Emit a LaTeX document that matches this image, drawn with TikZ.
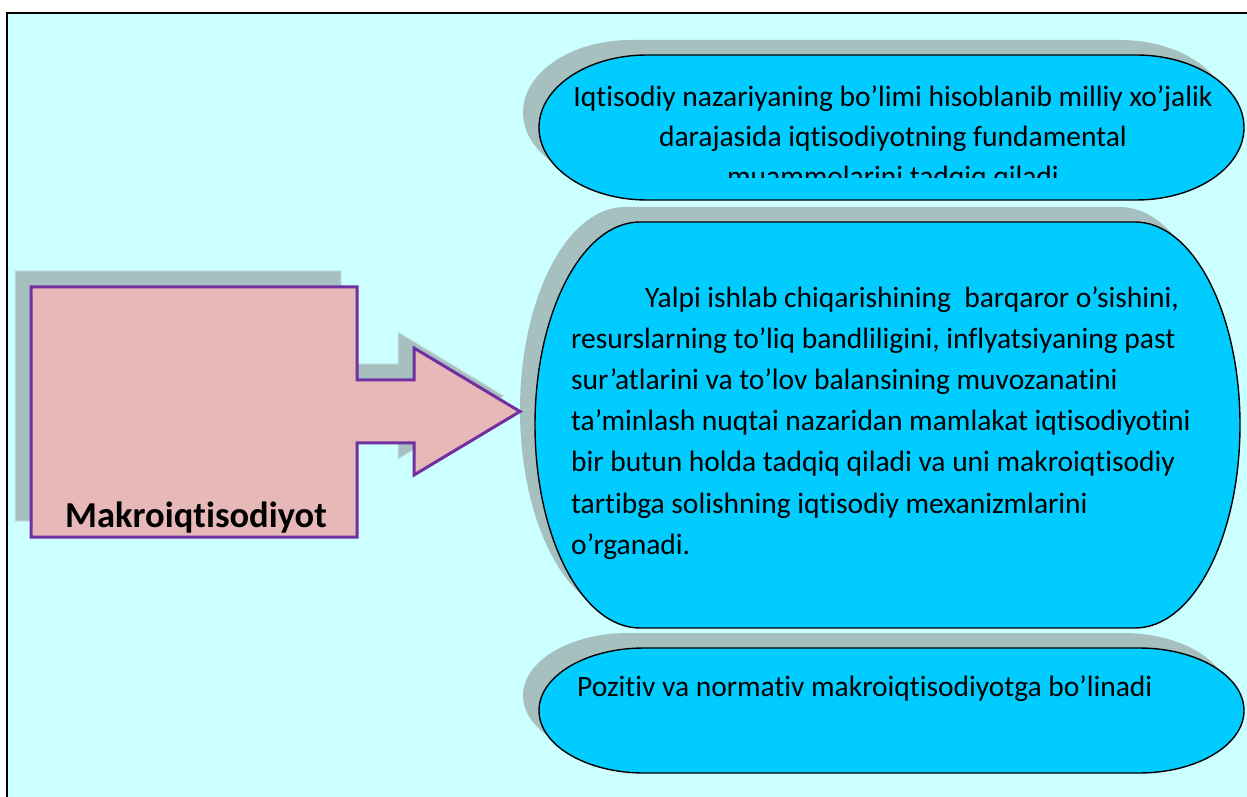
\documentclass[tikz,border=0pt]{standalone}
\usepackage{fontspec}
\setmainfont{Carlito}[Ligatures={NoCommon},RawFeature={-liga;-clig;-calt;-dlig}]
\definecolor{panel}{HTML}{CCFFFF}
\definecolor{capsulefill}{HTML}{00CCFF}
\definecolor{shadowgray}{HTML}{A6C0C0}
\definecolor{shadowedge}{HTML}{C8E2E2}
\definecolor{arrowfill}{HTML}{E6B8B7}
\definecolor{arrowline}{HTML}{7030A0}
% capsule with elliptical ends: style, left, right, top, bottom, x radius, y radius
\newcommand\capsuleshape[7]{%
  \path[#1] ({#2+#6},#4) -- ({#3-#6},#4)
    arc[start angle=90,end angle=-90,x radius=#6pt,y radius=#7pt]
    -- ({#2+#6},#5)
    arc[start angle=270,end angle=90,x radius=#6pt,y radius=#7pt] -- cycle;}
\begin{document}
\begin{tikzpicture}[x=1pt,y=1pt,
  capsule/.style={fill=capsulefill,draw=black,line width=1.4pt},
  capshadow/.style={fill=shadowgray},
  blockarrow/.style={fill=arrowfill,draw=arrowline,line width=3pt,line join=miter},
  arrowshadow/.style={fill=shadowgray,draw=shadowedge,line width=1pt},
  bodytext/.style={font=\fontsize{29.5}{40}\selectfont,inner sep=0pt,text=black}]
\useasboundingbox (0,0) rectangle (1247,796);
\clip (0,0) rectangle (1247,796);
\fill[white] (0,0) rectangle (1247,796);
\draw[fill=panel,line width=2pt] (7,-20) rectangle (1270,783);

% shadows of the three capsules
\capsuleshape{capshadow}{523}{1228}{756}{611}{108}{72.5}
\capsuleshape{capshadow}{520}{1225}{589}{183}{105}{203}
\capsuleshape{capshadow}{523}{1228}{163}{38}{105}{62.5}

% the block arrow and its shadow
\path[arrowshadow] (15,525) -- (341,525) -- (341,432) -- (398,432) -- (398,464)
  -- (504,400) -- (398,337) -- (398,369) -- (341,369) -- (341,275) -- (15,275) -- cycle;
\path[blockarrow] (31,509) -- (357,509) -- (357,416) -- (414,416) -- (414,448)
  -- (520,384.5) -- (414,321) -- (414,353) -- (357,353) -- (357,259) -- (31,259) -- cycle;
\node[inner sep=0pt,anchor=base,font=\fontsize{36.5}{40}\selectfont\bfseries]
  (arrowLabel) at (196,269) {Makroiqtisodiyot};

% the three capsules
\capsuleshape{capsule}{539}{1244}{741}{596}{108}{72.5}
\capsuleshape{capsule}{535}{1240}{574}{168}{105}{203}
\capsuleshape{capsule}{539}{1244}{148}{23}{105}{62.5}

% upper capsule text, cut off by its text frame
\begin{scope}
\clip (540,618) rectangle (1240,745);
\node[bodytext,align=center,anchor=north] (topText) at (893,710)
  {Iqtisodiy nazariyaning bo’limi hisoblanib milliy xo’jalik\\
   darajasida iqtisodiyotning fundamental\\
   muammolarini tadqiq qiladi};
\end{scope}

\node[bodytext,align=left,anchor=north west,font=\fontsize{29.5}{41.2}\selectfont]
  (midText) at (571,510)
  {\hspace*{74pt}Yalpi ishlab chiqarishining\ \ barqaror o’sishini,\\
   resurslarning to’liq bandliligini, inflyatsiyaning past\\
   sur’atlarini va to’lov balansining muvozanatini\\
   ta’minlash nuqtai nazaridan mamlakat iqtisodiyotini\\
   bir butun holda tadqiq qiladi va uni makroiqtisodiy\\
   tartibga solishning iqtisodiy mexanizmlarini\\
   o’rganadi.};

\node[bodytext,anchor=base west] (botText) at (577,100)
  {Pozitiv va normativ makroiqtisodiyotga bo’linadi};
\end{tikzpicture}
\end{document}
